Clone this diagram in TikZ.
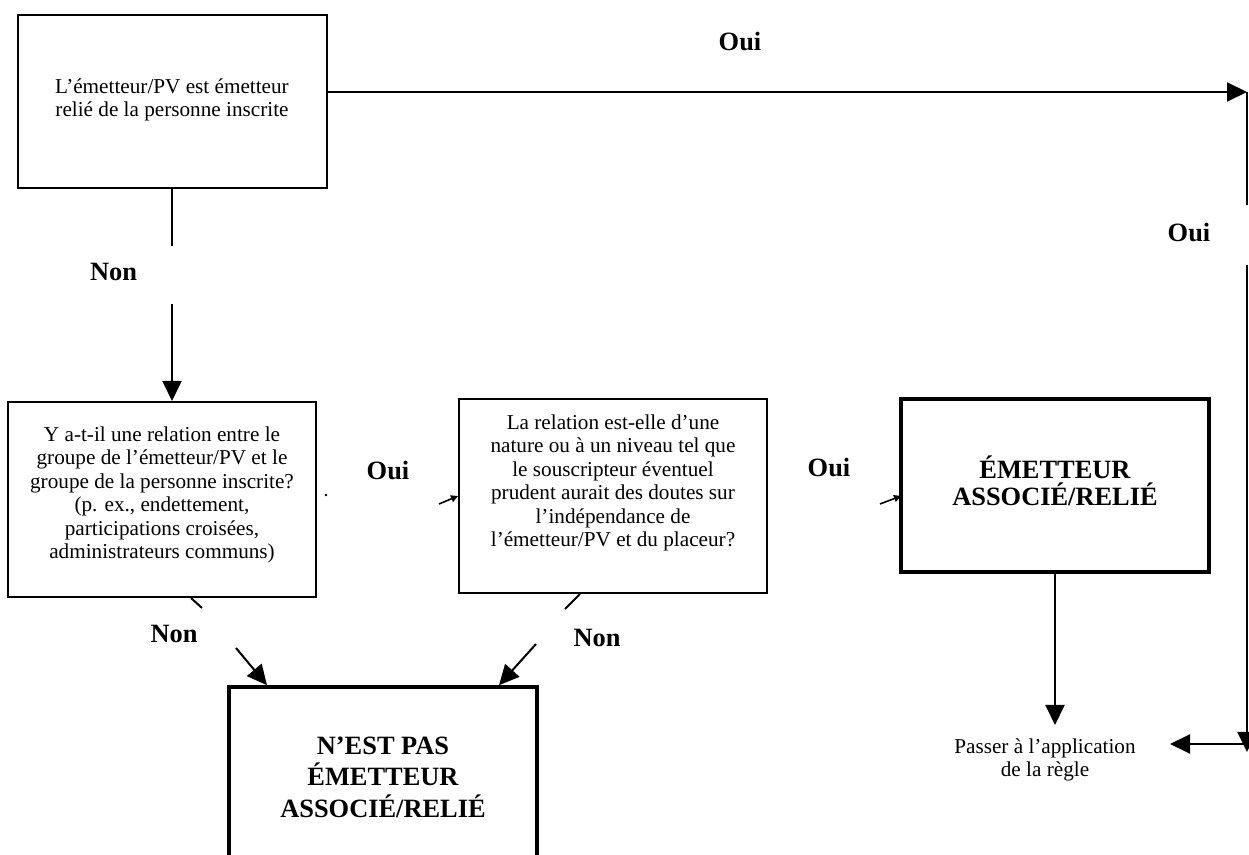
\documentclass[tikz,border=0pt]{standalone}
\usepackage{fontspec}
\setmainfont{Liberation Serif}
\usetikzlibrary{arrows.meta}
\begin{document}
\begin{tikzpicture}[x=0.5pt,y=-0.5pt,
  box/.style={draw, line width=1pt, rectangle, inner sep=0pt},
  heavybox/.style={draw, line width=1.8pt, rectangle, inner sep=0pt},
  txt/.style={align=center, inner sep=0pt, font=\fontsize{10.6}{11.7}\selectfont},
  bigtxt/.style={align=center, inner sep=0pt, font=\fontsize{13.2}{13.5}\selectfont\bfseries},
  lbl/.style={inner sep=0pt, font=\fontsize{13.2}{13.5}\selectfont\bfseries},
  conn/.style={line width=1pt},
  arr/.style={conn, -{Triangle[length=10pt,width=9.5pt]}},
  tinyarr/.style={line width=0.8pt, -{Triangle[length=3.5pt,width=3.5pt]}}]
\clip (0,0) rectangle (1249,855);

% decision and result boxes
\node[box, minimum width=154.5pt, minimum height=86.5pt] (q1) at (172,101.5) {};
\node[txt] (q1t) at (172,100) {L’émetteur/PV est émetteur\\relié de la personne inscrite};

\node[box, minimum width=154pt, minimum height=97.5pt] (q2) at (162,499.5) {};
\node[txt] (q2t) at (162,495) {Y a-t-il une relation entre le\\groupe de l’émetteur/PV et le\\groupe de la personne inscrite?\\(p. ex., endettement,\\participations croisées,\\administrateurs communs)};

\node[box, minimum width=154pt, minimum height=97pt] (q3) at (613,496) {};
\node[txt] (q3t) at (613,483) {La relation est-elle d’une\\nature ou à un niveau tel que\\le souscripteur éventuel\\prudent aurait des doutes sur\\l’indépendance de\\l’émetteur/PV et du placeur?};

\node[heavybox, minimum width=154pt, minimum height=86.5pt] (q4) at (1055,485.5) {};
\node[bigtxt] (q4t) at (1055,481) {ÉMETTEUR\\ASSOCIÉ/RELIÉ};

\node[heavybox, minimum width=154pt, minimum height=94pt] (q5) at (383,781) {};
\node[bigtxt, font=\fontsize{13.2}{15.75}\selectfont\bfseries] (q5t) at (383,777) {N’EST PAS\\ÉMETTEUR\\ASSOCIÉ/RELIÉ};

\node[txt] (pas) at (1045,760) {Passer à l’application\\de la règle};

% first question: Non downwards
\coordinate (n1a) at (172,246);
\coordinate (n1b) at (172,304);
\draw[conn] (q1.south) -- (n1a);
\node[lbl] (non1) at (113.5,272) {Non};
\draw[arr] (n1b) -- (n1b |- q2.north);

% first question: Oui to the right and down
\coordinate (tr) at (1247,92);
\draw[arr] (q1.east |- tr) -- (tr);
\node[lbl] (oui1) at (740,42) {Oui};
\coordinate (r1) at (1247,205);
\draw[conn] (tr) -- (r1);
\node[lbl] (oui2) at (1189,233) {Oui};
\coordinate (r2) at (1247,265);
\coordinate (r3) at (1247,752);
\draw[arr] (r2) -- (r3);
\coordinate (r4) at (1247,744);
\coordinate (pt) at (1170,744);
\draw[arr] (r4) -- (pt);

% second question: Oui
\fill (326,495) circle (0.7pt);
\coordinate (t1) at (439,504);
\draw[tinyarr] (t1) -- (q3.west);
\node[lbl] (oui3) at (388,471) {Oui};

% third question: Oui
\coordinate (t2) at (880,504);
\coordinate (t2e) at (901,496);
\draw[tinyarr] (t2) -- (t2e);
\node[lbl] (oui4) at (829,468) {Oui};

% associated issuer: go to the rule
\coordinate (pd) at (1055,725);
\draw[arr] (q4.south) -- (pd);

% Non branches into the bottom box
\coordinate (d0) at (191,597);
\coordinate (d1) at (202,608);
\draw[conn] (q2.south -| d0) -- (d1);
\node[lbl] (non2) at (174,634) {Non};
\coordinate (d2) at (236,648);
\coordinate (d3) at (267,687);
\draw[arr] (d2) -- (d3 |- q5.north);

\coordinate (e0) at (580,594);
\coordinate (e1) at (565,609);
\draw[conn] (q3.south -| e0) -- (e1);
\node[lbl] (non3) at (597,638) {Non};
\coordinate (e2) at (536,644);
\coordinate (e3) at (499,687);
\draw[arr] (e2) -- (e3 |- q5.north);
\end{tikzpicture}
\end{document}
